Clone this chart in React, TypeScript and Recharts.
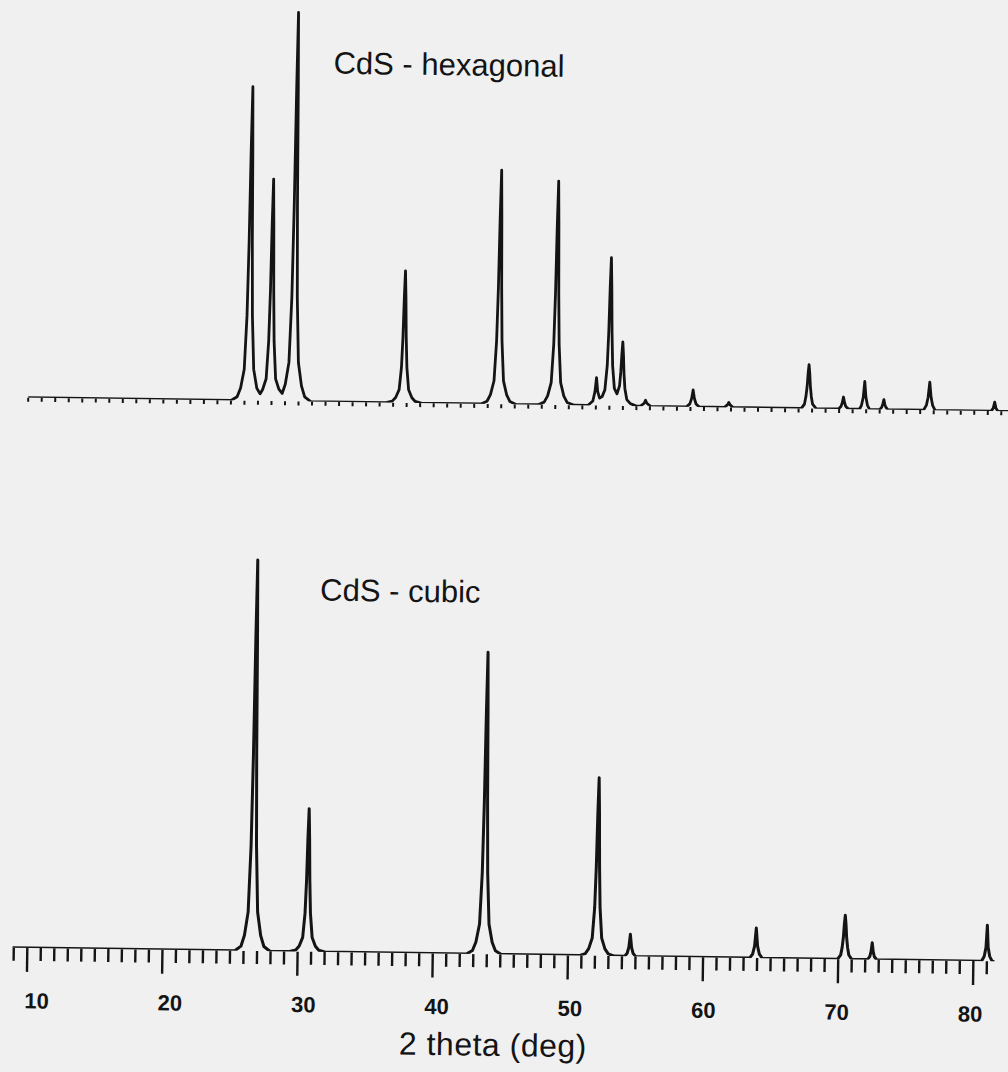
import React from "react";
import { LineChart, Line, XAxis, YAxis } from "recharts";

// 2θ (deg), intensity (arb. units) pairs
const hexagonalTrace: [number, number][] = [
  [9.5, 0], [24.5, 0], [24.95, 3.8], [25.2, 12.6], [25.45, 31.4], [25.6, 84.8], [25.68, 157], [25.74, 251], [25.8, 314],
  [25.86, 251], [25.92, 157], [26.0, 84.8], [26.15, 31.4], [26.4, 12.6], [26.65, 7], [26.83, 11.4], [27.08, 22.2],
  [27.23, 59.9], [27.31, 111], [27.37, 177.6], [27.43, 222], [27.49, 177.6], [27.55, 111], [27.63, 59.9], [27.78, 22.2],
  [28.03, 12], [28.28, 7.7], [28.5, 17], [28.75, 38.9], [28.9, 105], [28.98, 194.5], [29.04, 311], [29.1, 389],
  [29.16, 311], [29.22, 194.5], [29.3, 105], [29.45, 38.9], [29.7, 15.6], [29.95, 4.7], [30.4, 0],
  [35.98, 0], [36.43, 1.6], [36.68, 5.3], [36.93, 13.2], [37.08, 35.6], [37.16, 66], [37.22, 105.6], [37.28, 132],
  [37.34, 105.6], [37.4, 66], [37.48, 35.6], [37.63, 13.2], [37.88, 5.3], [38.13, 1.6], [38.58, 0],
  [42.99, 0], [43.44, 2.8], [43.69, 9.4], [43.94, 23.4], [44.09, 63.2], [44.17, 117], [44.23, 187.2], [44.29, 234],
  [44.35, 187.2], [44.41, 117], [44.49, 63.2], [44.64, 23.4], [44.89, 9.4], [45.14, 2.8], [45.59, 0],
  [47.22, 0], [47.67, 2.7], [47.92, 9], [48.17, 22.4], [48.32, 60.5], [48.4, 112], [48.46, 179.2], [48.52, 224],
  [48.58, 179.2], [48.64, 112], [48.72, 60.5], [48.87, 22.4], [49.12, 9], [49.37, 2.7], [49.9, 0],
  [50.9, 0], [51.27, 4.5], [51.42, 14], [51.52, 28], [51.62, 14], [51.77, 7.5], [51.95, 9], [52.15, 15.8], [52.3, 40],
  [52.38, 74], [52.44, 118.4], [52.5, 148], [52.56, 118.4], [52.62, 74], [52.7, 40], [52.85, 17.4], [53.05, 12],
  [53.23, 20], [53.31, 34], [53.37, 51.2], [53.43, 64], [53.49, 51.2], [53.55, 32], [53.63, 17.3], [53.78, 6.4],
  [54.03, 2.6], [54.5, 0],
  [54.8, 0], [55.07, 3], [55.17, 6], [55.27, 3], [55.55, 0],
  [58.2, 0], [58.45, 3], [58.58, 8.5], [58.68, 17], [58.78, 8.5], [58.91, 3], [59.16, 0],
  [61.0, 0], [61.23, 2.5], [61.33, 5], [61.43, 2.5], [61.66, 0],
  [66.7, 0], [66.93, 4.4], [67.03, 11.9], [67.11, 22], [67.17, 35.2], [67.23, 44], [67.29, 35.2], [67.35, 22],
  [67.43, 11.9], [67.53, 4.4], [67.8, 0],
  [69.45, 0], [69.63, 2.5], [69.72, 6], [69.81, 12], [69.9, 6], [69.99, 2.5], [70.2, 0],
  [71.0, 0], [71.15, 4], [71.27, 12], [71.37, 28], [71.47, 12], [71.59, 4], [71.75, 0],
  [72.5, 0], [72.65, 2.5], [72.72, 5], [72.8, 10], [72.88, 5], [72.95, 2.5], [73.1, 0],
  [75.75, 0], [75.95, 5], [76.07, 13], [76.18, 28], [76.29, 13], [76.41, 5], [76.6, 0],
  [80.75, 0], [80.9, 3], [81.0, 9], [81.1, 3], [81.25, 0], [82.6, 0],
];

const cubicTrace: [number, number][] = [
  [8.89, 0], [25.35, 0], [25.8, 4.7], [26.05, 15.6], [26.3, 39.1], [26.45, 105.6], [26.53, 195.5], [26.59, 312.8],
  [26.65, 391], [26.71, 312.8], [26.77, 195.5], [26.85, 105.6], [27.0, 39.1], [27.25, 15.6], [27.5, 4.7], [27.95, 0],
  [29.41, 0], [29.86, 1.7], [30.11, 5.7], [30.36, 14.3], [30.51, 38.6], [30.59, 71.5], [30.65, 114.4], [30.71, 143],
  [30.77, 114.4], [30.83, 71.5], [30.91, 38.6], [31.06, 14.3], [31.31, 5.7], [31.56, 1.7], [32.01, 0],
  [42.48, 0], [42.93, 3.6], [43.18, 12.1], [43.43, 30.2], [43.58, 81.5], [43.66, 151], [43.72, 241.6], [43.78, 302],
  [43.84, 241.6], [43.9, 151], [43.98, 81.5], [44.13, 30.2], [44.38, 12.1], [44.63, 3.6], [45.08, 0],
  [50.83, 0], [51.28, 2.1], [51.53, 7.1], [51.78, 17.8], [51.93, 48.1], [52.01, 89], [52.07, 142.4], [52.13, 178],
  [52.19, 142.4], [52.25, 89], [52.33, 48.1], [52.48, 17.8], [52.73, 7.1], [52.98, 2.1], [53.43, 0],
  [54.2, 0], [54.38, 3], [54.5, 9], [54.6, 22], [54.7, 9], [54.82, 3], [55.0, 0],
  [63.45, 0], [63.66, 4], [63.8, 12], [63.91, 30], [64.02, 12], [64.16, 4], [64.37, 0],
  [69.95, 0], [70.18, 4.4], [70.28, 11.9], [70.36, 22], [70.42, 35.2], [70.48, 44], [70.54, 35.2], [70.6, 22],
  [70.68, 11.9], [70.78, 4.4], [71.0, 0],
  [72.15, 0], [72.33, 3], [72.42, 8], [72.5, 17], [72.58, 8], [72.67, 3], [72.85, 0],
  [80.6, 0], [80.8, 5], [80.92, 14], [81.0, 36], [81.08, 14], [81.2, 5], [81.4, 0], [81.56, 0],
];

const axisTicks: number[] = [
  9, 10, 11, 12, 13, 14, 15, 16, 17, 18, 19, 20, 21, 22, 23, 24, 25, 26, 27, 28, 29, 30, 31, 32, 33, 34, 35, 36, 37,
  38, 39, 40, 41, 42, 43, 44, 45, 46, 47, 48, 49, 50, 51, 52, 53, 54, 55, 56, 57, 58, 59, 60, 61, 62, 63, 64, 65, 66,
  67, 68, 69, 70, 71, 72, 73, 74, 75, 76, 77, 78, 79, 80, 81,
];
const labelTicks: number[] = [10, 20, 30, 40, 50, 60, 70, 80];
const upperNotches: number[] = [
  9.5, 10.5, 11.5, 12.5, 13.5, 14.5, 15.5, 16.5, 17.5, 18.5, 19.5, 20.5, 21.5, 22.5, 23.5, 24.5, 25.5, 26.5, 27.5,
  28.5, 29.5, 30.5, 31.5, 32.5, 33.5, 34.5, 35.5, 36.5, 37.5, 38.5, 39.5, 40.5, 41.5, 42.5, 43.5, 44.5, 45.5, 46.5,
  47.5, 48.5, 49.5, 50.5, 51.5, 52.5, 53.5, 54.5, 55.5, 56.5, 57.5, 58.5, 59.5, 60.5, 61.5, 62.5, 63.5, 64.5, 65.5,
  66.5, 67.5, 68.5, 69.5, 70.5, 71.5, 72.5, 73.5, 74.5, 75.5, 76.5, 77.5, 78.5, 79.5, 80.5, 81.5,
];

const hexData = hexagonalTrace.map(([x, y]) => ({ x, y }));
const cubicData = cubicTrace.map(([x, y]) => ({ x, y }));

const X_DOMAIN: [number, number] = [8.89, 82.6];
const INK = "#141414";
const SANS = "'Liberation Sans', Arial, Helvetica, sans-serif";
const NARROW = "'Liberation Sans Narrow', 'Liberation Sans', Arial, sans-serif";

const BottomTick = (props: any) => {
  const { x, y, payload } = props;
  const v = payload.value as number;
  const major = labelTicks.includes(v);
  const shift = 10 - (v - 10) * 0.18;
  return (
    <g>
      <line x1={x} x2={x} y1={y} y2={y + (major ? 24 : 13)} stroke={INK} strokeWidth={2.4} />
      {major && (
        <text
          x={x + shift}
          y={y + 53}
          textAnchor="middle"
          dominantBaseline="central"
          fontSize={22}
          fontWeight={700}
          fontFamily={NARROW}
          fill={INK}
        >
          {v}
        </text>
      )}
    </g>
  );
};

const NotchTick = (props: any) => {
  const { x, y } = props;
  return <line x1={x} x2={x} y1={y} y2={y + 4} stroke={INK} strokeWidth={2} />;
};

export default function App() {
  return (
    <div
      style={{
        position: "absolute",
        left: 0,
        top: 0,
        width: 1008,
        height: 1072,
        overflow: "hidden",
        background: "#f0f0f0",
      }}
    >
      <div
        style={{
          position: "absolute",
          left: 0,
          top: 0,
          width: 1008,
          height: 1072,
          transform: "rotate(0.8deg)",
          transformOrigin: "504px 536px",
        }}
      >
        <div style={{ position: "absolute", left: 0, top: 0 }}>
          <LineChart width={1016} height={420} data={hexData} margin={{ top: 4.3, right: 1.6, bottom: 5.7, left: 18.1 }}>
            <XAxis
              type="number"
              dataKey="x"
              domain={X_DOMAIN}
              allowDataOverflow
              ticks={upperNotches}
              interval={0}
              height={10}
              axisLine={false}
              tickLine={false}
              tickSize={0}
              tickMargin={0}
              tick={<NotchTick />}
            />
            <YAxis type="number" domain={[0, 400]} hide allowDataOverflow />
            <Line
              type="linear"
              dataKey="y"
              stroke={INK}
              strokeWidth={2.8}
              dot={false}
              isAnimationActive={false}
              strokeLinejoin="round"
            />
          </LineChart>
        </div>
        <div style={{ position: "absolute", left: 0, top: 0 }}>
          <LineChart width={1016} height={1072} data={cubicData} margin={{ top: 554.5, right: 1.6, bottom: 57.5, left: 18.1 }}>
            <XAxis
              type="number"
              dataKey="x"
              domain={X_DOMAIN}
              allowDataOverflow
              ticks={axisTicks}
              interval={0}
              height={60}
              axisLine={false}
              tickLine={false}
              tickSize={0}
              tickMargin={0}
              tick={<BottomTick />}
            />
            <YAxis type="number" domain={[0, 400]} hide allowDataOverflow />
            <Line
              type="linear"
              dataKey="y"
              stroke={INK}
              strokeWidth={3}
              dot={false}
              isAnimationActive={false}
              strokeLinejoin="round"
            />
          </LineChart>
        </div>
        <div
          style={{
            position: "absolute",
            left: 327,
            top: 50,
            fontFamily: SANS,
            fontSize: 31,
            lineHeight: "31px",
            color: INK,
            whiteSpace: "nowrap",
          }}
        >
          CdS - hexagonal
        </div>
        <div
          style={{
            position: "absolute",
            left: 321,
            top: 577,
            fontFamily: SANS,
            fontSize: 31,
            lineHeight: "31px",
            color: INK,
            whiteSpace: "nowrap",
          }}
        >
          CdS - cubic
        </div>
        <div
          style={{
            position: "absolute",
            left: 300,
            width: 400,
            top: 1029,
            textAlign: "center",
            fontFamily: SANS,
            fontSize: 32,
            lineHeight: "32px",
            letterSpacing: 0.5,
            color: INK,
            whiteSpace: "nowrap",
          }}
        >
          2 theta (deg)
        </div>
      </div>
    </div>
  );
}
